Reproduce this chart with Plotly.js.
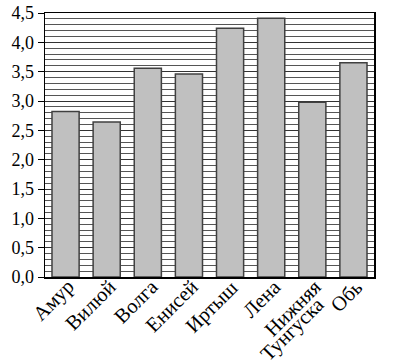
<!DOCTYPE html>
<html>
<head>
<meta charset="utf-8">
<script src="https://cdn.plot.ly/plotly-3.0.1.min.js"></script>
<style>html,body{margin:0;padding:0;background:#fff;}#chart{width:394px;height:362px;}</style>
</head>
<body>
<div id="chart"></div>
<script>
const categories = ["Амур", "Вилюй", "Волга", "Енисей", "Иртыш", "Лена", "Нижняя<br>Тунгуска", "Обь"];
const values = [2.82, 2.64, 3.56, 3.46, 4.24, 4.41, 2.98, 3.65];
const yTickVals = [0, 0.5, 1, 1.5, 2, 2.5, 3, 3.5, 4, 4.5];

const fam = "Liberation Serif, Times New Roman, serif";
const font = {family: fam, size: 18, color: "#000"};
const xFont = {family: fam, size: 20.5, color: "#000"};

// category labels drawn as rotated annotations (one per line of each label)
const annotations = [];
categories.forEach(function (c) {
  c.split("<br>").forEach(function (line, i) {
    annotations.push({
      x: c, xref: "x", y: 0, yref: "paper",
      text: line, showarrow: false, textangle: -45,
      xanchor: "right", yanchor: "top",
      xshift: 16 + 3 * i, yshift: 4 - 18 * i,
      font: xFont
    });
  });
});

Plotly.newPlot("chart", [{
  type: "bar",
  x: categories,
  y: values,
  marker: {color: "#c0c0c0", line: {color: "#404040", width: 1.5}},
  hoverinfo: "none"
}], {
  width: 394, height: 362,
  margin: {l: 45, r: 20, t: 13, b: 85},
  paper_bgcolor: "#fff", plot_bgcolor: "#fff",
  separators: ",.",
  bargap: 0.34,
  showlegend: false,
  font: font,
  annotations: annotations,
  xaxis: {
    type: "category", range: [-0.5, categories.length - 0.5], autorange: false,
    showline: true, linecolor: "#000", linewidth: 1.5, mirror: true,
    ticks: "", showticklabels: false,
    showgrid: false, zeroline: false
  },
  yaxis: {
    range: [0, 4.5], autorange: false, tickvals: yTickVals, tickformat: ".1f",
    showline: true, linecolor: "#000", linewidth: 1.5, mirror: true,
    ticks: "outside", ticklen: 6, tickcolor: "#000", tickwidth: 1,
    showgrid: true, gridcolor: "#333", gridwidth: 1,
    minor: {dtick: 0.1, showgrid: true, gridcolor: "#555", gridwidth: 1, ticks: ""},
    zeroline: false, tickfont: font
  }
}, {staticPlot: true});
</script>
</body>
</html>
